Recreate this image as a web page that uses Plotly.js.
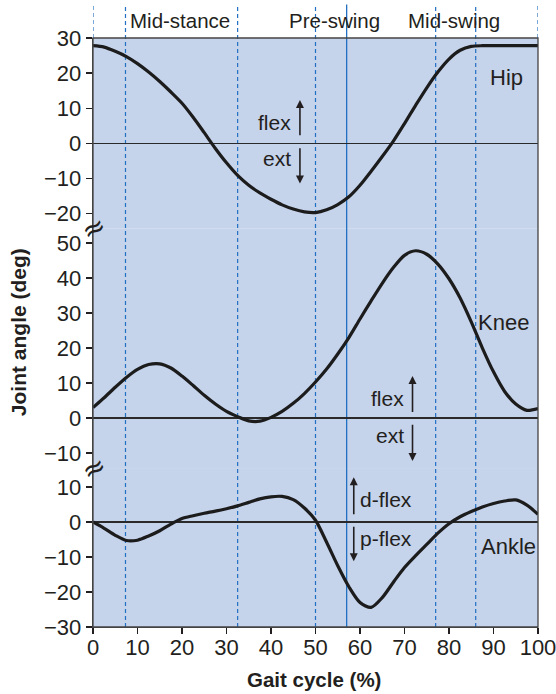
<!DOCTYPE html>
<html>
<head>
<meta charset="utf-8">
<script src="https://cdn.plot.ly/plotly-3.0.1.min.js"></script>
<style>
  html, body { margin: 0; padding: 0; background: #ffffff; }
  #chart { width: 556px; height: 694px; }
</style>
</head>
<body>
<div id="chart"></div>
<script>
// ---- data ----
const gaitPct = [0, 2.5, 5, 7.5, 10, 12.5, 15, 17.5, 20, 22.5, 25, 27.5, 30, 32.5, 35, 37.5, 40, 42.5, 45, 47.5,
                 50, 52.5, 55, 57.5, 60, 62.5, 65, 67.5, 70, 72.5, 75, 77.5, 80, 82.5, 85, 87.5, 90, 92.5, 95, 97.5, 100];

const hipAngle = [27.8, 27.4, 26.2, 24.7, 22.7, 20.3, 17.6, 14.6, 11.4, 7.4, 3.0, -1.5, -5.6, -9.2, -12.0, -14.2, -16.0, -17.6, -18.8, -19.6,
                  -19.8, -19.0, -17.5, -15.3, -12.0, -8.0, -3.8, 0.6, 5.6, 10.8, 15.8, 20.3, 24.0, 26.5, 27.6, 27.8, 27.8, 27.8, 27.8, 27.8, 27.8];

const kneeAngle = [3.0, 5.8, 8.8, 11.6, 13.9, 15.3, 15.5, 14.3, 12.0, 9.3, 6.5, 4.0, 1.9, 0.4, -0.8, -0.9, 0.2, 1.9, 4.2, 7.0,
                   10.3, 14.0, 18.3, 23.0, 28.3, 33.5, 38.5, 43.0, 46.5, 47.8, 46.8, 44.0, 39.8, 34.3, 27.5, 20.0, 13.2, 7.6, 4.0, 2.2, 2.7];

const ankleAngle = [0.0, -1.8, -3.8, -5.3, -5.2, -4.0, -2.5, -0.6, 1.0, 1.8, 2.5, 3.1, 3.8, 4.6, 5.6, 6.6, 7.2, 7.3, 6.4, 4.0,
                    0.5, -5.8, -12.5, -18.5, -23.0, -24.4, -21.6, -17.2, -13.0, -9.6, -6.4, -3.2, -0.5, 1.5, 3.0, 4.3, 5.3, 6.0, 6.3, 4.8, 2.2];

const xTicks = [0, 10, 20, 30, 40, 50, 60, 70, 80, 90, 100];
const hipTicks = [-20, -10, 0, 10, 20, 30];
const kneeTicks = [-10, 0, 10, 20, 30, 40, 50];
const ankleTicks = [-30, -20, -10, 0, 10];

const phaseLines = [0, 7.3, 32.5, 50, 77, 86, 100];   // dashed boundaries
const toeOffLine = [57];                              // solid boundary
const phaseNames = ['Mid-stance', 'Pre-swing', 'Mid-swing'];
const phaseNameX = [19.5, 54.3, 81.2];

// ---- styling ----
const FONT = '"Liberation Sans", Arial, sans-serif';
const INK = '#231f20';
const BLUE = '#2270c2';
const BG = '#c5d3eb';
const curveLine = {color: '#1c1c1c', width: 3.2, shape: 'spline', smoothing: 0.8};

const traces = [
  {x: gaitPct, y: hipAngle, xaxis: 'x', yaxis: 'y', mode: 'lines', line: curveLine, name: 'Hip', hoverinfo: 'skip'},
  {x: gaitPct, y: kneeAngle, xaxis: 'x', yaxis: 'y2', mode: 'lines', line: curveLine, name: 'Knee', hoverinfo: 'skip'},
  {x: gaitPct, y: ankleAngle, xaxis: 'x', yaxis: 'y3', mode: 'lines', line: curveLine, name: 'Ankle', hoverinfo: 'skip'}
];

const yCommon = {
  anchor: 'x', ticks: 'outside', ticklen: 6, tickwidth: 1.2, tickcolor: INK,
  showline: true, linecolor: '#444', linewidth: 1.3,
  showgrid: false, zeroline: true, zerolinecolor: '#2a2a2a', zerolinewidth: 1.2,
  tickfont: {family: FONT, size: 22, color: INK}, fixedrange: true
};

const shapes = [];
phaseLines.forEach(function (px) {
  shapes.push({type: 'line', xref: 'x', yref: 'paper', x0: px, x1: px,
               y0: (px === 0 || px === 100) ? 1 : 0, y1: 1.057,
               line: {color: BLUE, width: 1.2, dash: '4px,3px'}, layer: 'below'});
});
toeOffLine.forEach(function (px) {
  shapes.push({type: 'line', xref: 'x', yref: 'paper', x0: px, x1: px, y0: 0, y1: 1.057,
               line: {color: BLUE, width: 1.3}, layer: 'below'});
});
shapes.push({type: 'rect', xref: 'paper', yref: 'paper', x0: 0, x1: 1, y0: 0, y1: 1,
             line: {color: '#444', width: 1.3}, fillcolor: 'rgba(0,0,0,0)', layer: 'above'});

const txt = (size) => ({family: FONT, size: size, color: INK});
const annotations = [];
phaseNames.forEach(function (name, i) {
  annotations.push({text: name, xref: 'x', yref: 'paper', x: phaseNameX[i], y: 1.029,
                    xanchor: 'center', yanchor: 'middle', showarrow: false, font: txt(20.5)});
});
// joint labels
annotations.push({text: 'Hip', xref: 'x', yref: 'y', x: 93, y: 18.8, showarrow: false, font: txt(22)});
annotations.push({text: 'Knee', xref: 'x', yref: 'y2', x: 92.3, y: 27.3, showarrow: false, font: txt(22)});
annotations.push({text: 'Ankle', xref: 'x', yref: 'y3', x: 93.3, y: -7.0, showarrow: false, font: txt(22)});

// direction arrows
function arrow(yref, x, yTail, yHead) {
  annotations.push({text: '', xref: 'x', yref: yref, axref: 'x', ayref: yref,
                    x: x, y: yHead, ax: x, ay: yTail, showarrow: true,
                    arrowhead: 2, arrowsize: 1, arrowwidth: 1.6, arrowcolor: INK});
}
function label(yref, x, y, text, anchor) {
  annotations.push({text: text, xref: 'x', yref: yref, x: x, y: y, xanchor: anchor,
                    yanchor: 'middle', showarrow: false, font: txt(21)});
}
arrow('y', 46.5, 1.8, 12.3);  arrow('y', 46.5, -1.0, -11.5);
label('y', 45.0, 6.0, 'flex', 'right'); label('y', 45.0, -4.5, 'ext', 'right');
arrow('y2', 71.8, 1.3, 12.0); arrow('y2', 71.8, -1.5, -12.3);
label('y2', 70.3, 5.6, 'flex', 'right'); label('y2', 70.3, -5.1, 'ext', 'right');
arrow('y3', 58.6, 1.8, 12.8); arrow('y3', 58.6, -0.9, -11.2);
label('y3', 59.6, 6.3, 'd-flex', 'left'); label('y3', 59.6, -4.7, 'p-flex', 'left');

// axis-break marks
[0.6762, 0.2698].forEach(function (yb) {
  annotations.push({text: '≈', xref: 'paper', yref: 'paper', x: 0, y: yb, xanchor: 'center', yanchor: 'middle',
                    showarrow: false, textangle: -28,
                    font: {family: 'DejaVu Sans, sans-serif', size: 28, color: INK}});
});

// axis titles
annotations.push({text: '<b>Joint angle (deg)</b>', xref: 'paper', yref: 'paper', x: -0.167, y: 0.5,
                  xanchor: 'center', yanchor: 'middle', textangle: -90, showarrow: false, font: txt(21)});
annotations.push({text: '<b>Gait cycle (%)</b>', xref: 'paper', yref: 'paper', x: 0.497, y: -0.089,
                  xanchor: 'center', yanchor: 'middle', showarrow: false, font: txt(20.5)});

const layout = {
  width: 556, height: 694,
  margin: {l: 93, r: 18, t: 38, b: 67},
  paper_bgcolor: '#ffffff', plot_bgcolor: BG,
  showlegend: false,
  xaxis: {domain: [0, 1], range: [0, 100], anchor: 'y3', tickvals: xTicks,
          ticks: 'outside', ticklen: 6, tickwidth: 1.2, tickcolor: INK,
          ticklabelstandoff: -6, ticklabeloverflow: 'allow',
          showline: true, linecolor: '#444', linewidth: 1.3, showgrid: false, zeroline: false,
          tickfont: {family: FONT, size: 22, color: INK}, fixedrange: true},
  yaxis: Object.assign({}, yCommon, {domain: [0.6762, 1], range: [-24.4, 30], tickvals: hipTicks}),
  yaxis2: Object.assign({}, yCommon, {domain: [0.2698, 0.6762], range: [-14.3, 54.1], tickvals: kneeTicks}),
  yaxis3: Object.assign({}, yCommon, {domain: [0, 0.2698], range: [-30, 15.4], tickvals: ankleTicks}),
  shapes: shapes,
  annotations: annotations
};

Plotly.newPlot('chart', traces, layout, {staticPlot: true, displayModeBar: false});
</script>
</body>
</html>
